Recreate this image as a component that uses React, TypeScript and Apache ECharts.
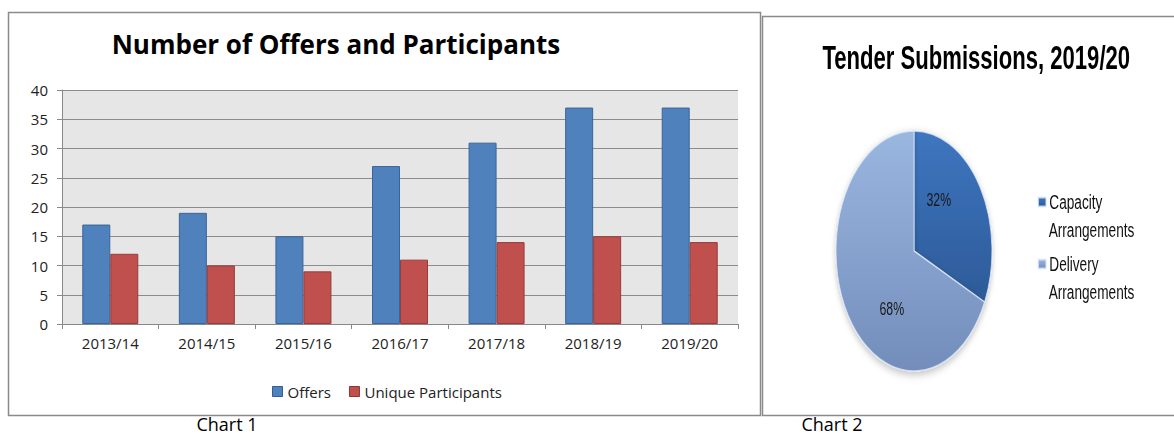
import React, { useEffect, useRef } from "react";
import * as echarts from "echarts";

const years = ["2013/14", "2014/15", "2015/16", "2016/17", "2017/18", "2018/19", "2019/20"];
const offers = [17, 19, 15, 27, 31, 37, 37];
const participants = [12, 10, 9, 11, 14, 15, 14];
const yTicks = [0, 5, 10, 15, 20, 25, 30, 35, 40];

const pieNames = ["Capacity Arrangements", "Delivery Arrangements"];
const pieValues = [32, 68];

const SX = 0.65;

export default function App() {
  const ref1 = useRef<HTMLDivElement>(null);
  const ref2 = useRef<HTMLDivElement>(null);

  useEffect(() => {
    const c1 = echarts.init(ref1.current!, null, { renderer: "svg" });
    const font = "'Open Sans', sans-serif";
    c1.setOption({
      animation: false,
      title: {
        text: "Number of Offers and Participants",
        left: 331,
        textAlign: "center",
        top: 26,
        textStyle: { fontFamily: font, fontSize: 26, fontWeight: "bold", color: "#000" },
      },
      grid: {
        left: 62,
        top: 90,
        right: 1174 - 738,
        bottom: 437 - 324,
        show: true,
        backgroundColor: "#e6e6e6",
        borderWidth: 0,
      },
      legend: {
        left: 272,
        top: 384,
        padding: 0,
        icon: "rect",
        itemWidth: 10,
        itemHeight: 10,
        itemGap: 18,
        textStyle: { fontFamily: font, fontSize: 15, color: "#222" },
        data: [
          { name: "Offers", itemStyle: { color: "#4f81bd", borderColor: "#2f5d94", borderWidth: 1 } },
          { name: "Unique Participants", itemStyle: { color: "#c0504d", borderColor: "#8e3533", borderWidth: 1 } },
        ],
      },
      xAxis: {
        type: "category",
        data: years,
        axisLine: { lineStyle: { color: "#888", width: 1 } },
        axisTick: { show: true, length: 5, lineStyle: { color: "#888" } },
        axisLabel: { fontFamily: font, fontSize: 15, color: "#222", margin: 11 },
      },
      yAxis: {
        type: "value",
        min: 0,
        max: 40,
        interval: 5,
        axisLine: { show: true, lineStyle: { color: "#888", width: 1 } },
        axisTick: { show: true, length: 5, lineStyle: { color: "#888" } },
        splitLine: { lineStyle: { color: "#8c8c8c", width: 1 } },
        axisLabel: {
          fontFamily: font,
          fontSize: 15,
          color: "#222",
          margin: 14,
          formatter: (v: number) => (yTicks.includes(v) ? String(v) : ""),
        },
      },
      series: [
        {
          name: "Offers",
          type: "bar",
          data: offers,
          barWidth: 28,
          barGap: "0%",
          itemStyle: { color: "#4f81bd", borderColor: "#3a6599", borderWidth: 1 },
        },
        {
          name: "Unique Participants",
          type: "bar",
          data: participants,
          barWidth: 28,
          barGap: "0%",
          itemStyle: { color: "#c0504d", borderColor: "#963c3a", borderWidth: 1 },
        },
      ],
      graphic: [
        {
          type: "rect",
          shape: { x: 8.5, y: 12.5, width: 752, height: 403 },
          style: { fill: "none", stroke: "#8a8a8a", lineWidth: 1.5 },
          z: 0,
        },
        {
          type: "rect",
          shape: { x: 762.5, y: 16.5, width: 420, height: 399 },
          style: { fill: "none", stroke: "#8a8a8a", lineWidth: 1.5 },
          z: 0,
        },
        {
          type: "text",
          x: 227,
          y: 424,
          style: {
            text: "Chart 1",
            fontFamily: font,
            fontSize: 18,
            fill: "#000",
            align: "center",
            verticalAlign: "middle",
          },
        },
        {
          type: "text",
          x: 832,
          y: 424,
          style: {
            text: "Chart 2",
            fontFamily: font,
            fontSize: 18,
            fill: "#000",
            align: "center",
            verticalAlign: "middle",
          },
        },
      ],
    });

    const c2 = echarts.init(ref2.current!, null, { renderer: "svg" });
    const font2 = "'Liberation Sans', Arial, sans-serif";
    const textLeft = 424 + 12 + 5;
    c2.setOption({
      animation: false,
      title: {
        text: "Tender Submissions, 2019/20",
        left: (973 - 762) / SX,
        textAlign: "center",
        top: 19,
        textStyle: { fontFamily: font2, fontSize: 34, fontWeight: "bold", color: "#000" },
      },
      legend: {
        orient: "vertical",
        left: 424,
        top: 172,
        padding: 0,
        icon: "rect",
        itemWidth: 12,
        itemHeight: 9,
        itemGap: 34,
        formatter: (n: string) => n.split(" ")[0],
        textStyle: { fontFamily: font2, fontSize: 21, lineHeight: 28, color: "#111" },
        data: pieNames,
      },
      graphic: pieNames.map((n, i) => ({
        type: "text",
        x: textLeft,
        y: 214 + i * 62,
        style: {
          text: n.split(" ").slice(1).join(" "),
          fontFamily: font2,
          fontSize: 21,
          fill: "#111",
          align: "left",
          verticalAlign: "middle",
        },
      })),
      series: [
        {
          type: "pie",
          center: [(914 - 762) / SX, 251 - 16],
          radius: 120,
          startAngle: 90,
          clockwise: true,
          label: {
            show: true,
            position: "inside",
            formatter: "{d}%",
            fontFamily: font2,
            fontSize: 19,
            color: "#1a1a1a",
          },
          labelLine: { show: false },
          itemStyle: {
            borderColor: "rgba(220,232,248,0.8)",
            borderWidth: 1.5,
            shadowBlur: 8,
            shadowColor: "rgba(0,0,0,0.25)",
            shadowOffsetY: 3,
          },
          data: [
            {
              name: pieNames[0],
              value: pieValues[0],
              label: { offset: [-15, -18] },
              itemStyle: {
                color: new echarts.graphic.LinearGradient(0, 0, 0, 1, [
                  { offset: 0, color: "#3e76c0" },
                  { offset: 1, color: "#2d5a98" },
                ]),
              },
            },
            {
              name: pieNames[1],
              value: pieValues[1],
              label: { offset: [19, 23] },
              itemStyle: {
                color: new echarts.graphic.LinearGradient(0, 0, 0, 1, [
                  { offset: 0, color: "#9ab7e0" },
                  { offset: 1, color: "#738dbb" },
                ]),
              },
            },
          ],
        },
      ],
    });

    return () => {
      c1.dispose();
      c2.dispose();
    };
  }, []);

  return (
    <div style={{ position: "fixed", left: 0, top: 0, width: 1174, height: 437, background: "#fff" }}>
      <div ref={ref1} style={{ position: "absolute", left: 0, top: 0, width: 1174, height: 437 }} />
      <div
        ref={ref2}
        style={{
          position: "absolute",
          left: 762,
          top: 16,
          width: Math.round(412 / SX),
          height: 399,
          transform: `scaleX(${SX})`,
          transformOrigin: "0 0",
        }}
      />
    </div>
  );
}
